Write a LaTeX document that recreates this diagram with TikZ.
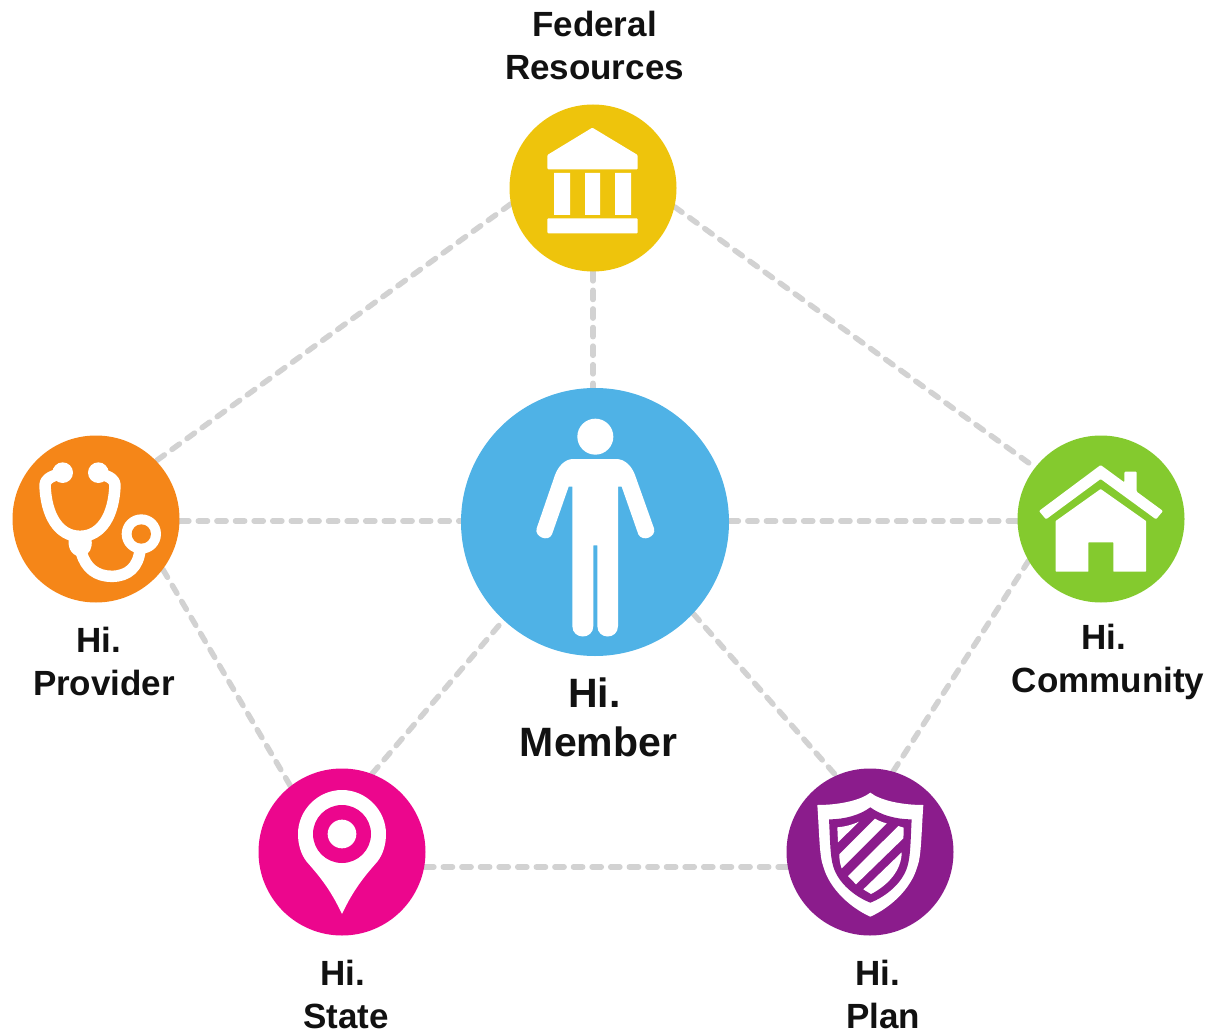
\documentclass[tikz,border=0pt]{standalone}
\usepackage{fontspec}
\usetikzlibrary{backgrounds,calc}
\setmainfont{Liberation Sans}
\definecolor{cfed}{HTML}{EEC40C}
\definecolor{cmem}{HTML}{4FB2E6}
\definecolor{cpro}{HTML}{F58618}
\definecolor{ccom}{HTML}{84CA2E}
\definecolor{csta}{HTML}{EC068D}
\definecolor{cpla}{HTML}{8B1C8C}
\definecolor{clink}{HTML}{D2D2D2}
\definecolor{ctext}{HTML}{111111}
\tikzset{
  hub/.style={circle,inner sep=0pt,minimum size=167pt,fill=#1},
  link/.style={draw=clink,line width=5.5pt,line cap=round,dash pattern=on 9.2pt off 9.4pt},
  lab/.style={align=center,inner sep=0pt,text=ctext,font=\bfseries\fontsize{35}{43}\selectfont},
  iconat/.style 2 args={shift={(#1,#2)},x=.33333pt,y=-.33333pt},
  ink/.style={fill=white,draw=none},
}
\begin{document}
\begin{tikzpicture}[x=1pt,y=-1pt]
\useasboundingbox (0,0) rectangle (1210,1030);
\node[hub=cfed] (fed) at (593,188) {};
\node[hub=cmem,minimum size=268pt] (mem) at (595,522) {};
\node[hub=cpro] (pro) at (96,519) {};
\node[hub=ccom] (com) at (1101,519) {};
\node[hub=csta] (sta) at (342,852) {};
\node[hub=cpla] (pla) at (870,852) {};
% connectors
\begin{scope}[on background layer]
\draw[link] (fed.south) -- ($(mem.north)+(-2,0)$);
\draw[link] (fed.191.6) -- (pro.44);
\draw[link] (fed.-13) -- (com.142);
\draw[link] ($(pro.east)+(0,2)$) -- ($(mem.west)+(0,-1)$);
\draw[link] ($(mem.east)+(0,-1)$) -- ($(com.west)+(0,2)$);
\draw[link] (pro.-37) -- (sta.128);
\draw[link] ($(sta.east)+(-1,15)$) -- ($(pla.west)+(1,15)$);
\draw[link] (sta.69) -- (mem.227);
\draw[link] (mem.-43) -- (pla.114);
\draw[link] (pla.74) -- (com.210.7);
\end{scope}
% federal icon
\begin{scope}[iconat={500}{95}]
\fill[ink,rounded corners=1pt] (277,98) -- (413,180) -- (413,223) -- (142,223) -- (142,180) -- cycle;
\fill[ink] (162,234) rectangle (210,360) (255,234) rectangle (300,360) (345,234) rectangle (393,360);
\fill[ink,rounded corners=1pt] (142,370) rectangle (413,415);
\end{scope}
% provider icon
\begin{scope}[iconat={0}{425}]
\draw[white,line width=11.5pt,line cap=round,line join=round]
  (175,148) .. controls (150,155) and (135,165) .. (135,180)
  .. controls (138,270) and (175,334) .. (240,334)
  .. controls (305,334) and (342,270) .. (345,180)
  .. controls (345,165) and (330,155) .. (305,148);
\draw[white,line width=11.5pt,line cap=round]
  (245,385) .. controls (258,430) and (290,454) .. (335,454)
  .. controls (385,454) and (415,425) .. (420,375);
\fill[ink] (188,143) circle (31) (295,143) circle (31);
\fill[ink] (206,345) -- (275,345) .. controls (277,370) and (270,388) .. (245,395)
  .. controls (220,395) and (203,375) .. (206,345) -- cycle;
\fill[ink] (424,327) circle (59);
\fill[cpro] (424,327) circle (29);
\end{scope}
% member icon
\begin{scope}[iconat={510}{400}]
\fill[ink] (256,110) circle (54);
\fill[ink] (190,177) -- (318,177) .. controls (345,177) and (365,198) .. (375,225)
  -- (432,385) .. controls (440,410) and (398,428) .. (385,403)
  -- (335,260) -- (324,260) -- (324,678)
  .. controls (324,720) and (262,720) .. (262,678)
  -- (262,436) -- (250,436) -- (250,678)
  .. controls (250,720) and (187,720) .. (187,678)
  -- (187,260) -- (176,260) -- (126,403)
  .. controls (115,428) and (72,410) .. (80,385)
  -- (135,225) .. controls (145,198) and (165,177) .. (190,177) -- cycle;
\end{scope}
% community icon
\begin{scope}[iconat={1010}{425}]
\fill[ink,rounded corners=1pt] (272,120) -- (343,172) -- (343,140) -- (380,140) -- (380,200) -- (459,258)
  -- (438,283) -- (272,162) -- (108,283) -- (87,258) -- cycle;
\fill[ink,rounded corners=.5pt] (272,192) -- (408,288) -- (408,440) -- (310,440) -- (310,352) -- (235,352) -- (235,440) -- (137,440) -- (137,288) -- cycle;
\end{scope}
% state icon
\begin{scope}[iconat={250}{760}]
\fill[ink] (276,462) .. controls (240,385) and (205,345) .. (170,305)
  .. controls (152,282) and (144,252) .. (144,222)
  .. controls (144,150) and (204,90) .. (276,90)
  .. controls (348,90) and (408,150) .. (408,222)
  .. controls (408,252) and (400,282) .. (382,305)
  .. controls (347,345) and (312,385) .. (276,462) -- cycle;
\fill[csta] (276,222) circle (87);
\fill[ink] (276,222) circle (43);
\end{scope}
% plan icon
\begin{scope}[iconat={780}{760}]
\fill[ink] (271,98) .. controls (240,122) and (175,135) .. (112,135)
  .. controls (118,220) and (118,290) .. (130,320)
  .. controls (150,390) and (215,445) .. (271,470)
  .. controls (327,445) and (392,390) .. (412,320)
  .. controls (424,290) and (424,220) .. (430,135)
  .. controls (367,135) and (302,122) .. (271,98) -- cycle;
\fill[cpla] (271,142) .. controls (240,165) and (195,178) .. (147,178)
  .. controls (150,230) and (150,290) .. (160,320)
  .. controls (175,370) and (225,410) .. (271,428)
  .. controls (317,410) and (367,370) .. (382,320)
  .. controls (392,290) and (392,230) .. (395,178)
  .. controls (347,178) and (302,165) .. (271,142) -- cycle;
\fill[ink] (172,202) .. controls (195,200) and (215,195) .. (237,185) -- (174,247) -- cycle;
\fill[ink] (285,176) .. controls (297,183) and (308,187) .. (320,190) -- (185,325) .. controls (180,312) and (178,298) .. (178,283) -- cycle;
\fill[ink] (355,198) -- (371,203) .. controls (371,215) and (371,225) .. (370,235) -- (228,373) -- (204,348) -- cycle;
\fill[ink] (365,277) .. controls (365,330) and (325,375) .. (273,402) -- (250,388) -- cycle;
\end{scope}
% labels
\node[lab] (lfed) at (594.5,45) {Federal\\Resources};
\node[lab] (lpro) at (104,661) {Hi.\kern 10pt\\Provider};
\node[lab] (lcom) at (1108,662) {Hi.\kern 8pt\\Community};
\node[lab,font=\bfseries\fontsize{41}{49}\selectfont] (lmem) at (598.5,717) {Hi.\kern 8pt\\Member};
\node[lab] (lsta) at (346,994) {Hi.\kern 6pt\\State};
\node[lab] (lpla) at (883,994) {Hi.\kern 10pt\\Plan};
\end{tikzpicture}
\end{document}
